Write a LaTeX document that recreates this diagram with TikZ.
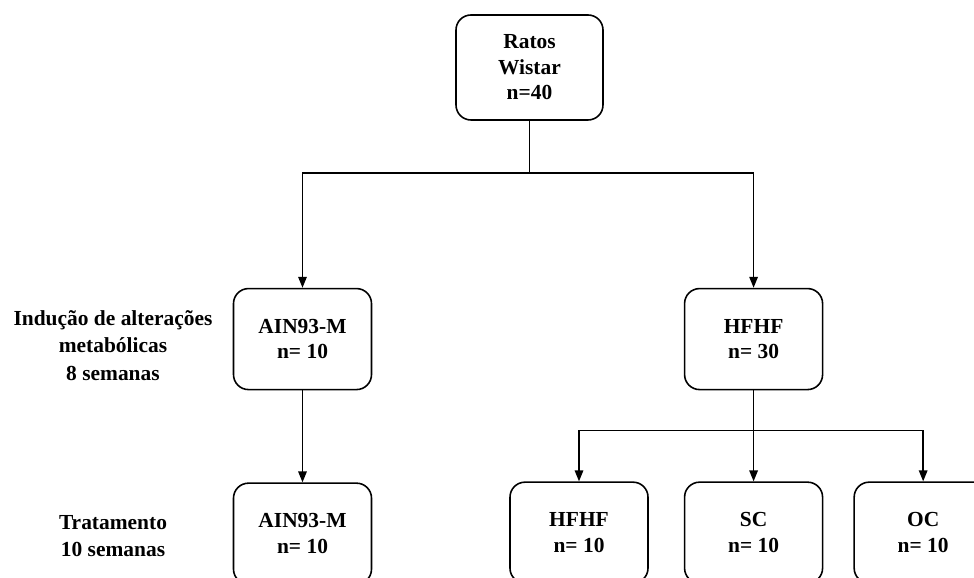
\documentclass[tikz,border=0pt]{standalone}
\usepackage{fontspec}
\setmainfont{Liberation Serif}
\usetikzlibrary{positioning,arrows.meta}

\tikzstyle{group} = [rectangle, rounded corners=0.3cm, minimum width=2.76cm, minimum height=2.02cm, text centered, draw=black, line width=0.9pt, font=\bfseries\fontsize{12.2}{14.5}\selectfont]
\tikzstyle{start} = [group, minimum width=2.94cm, minimum height=2.1cm]
\tikzstyle{phase} = [font=\bfseries\fontsize{12.2}{15.4}\selectfont]
\tikzstyle{arrow} = [line width=0.9pt, -{Triangle[length=0.22cm, width=0.17cm]}]

\begin{document}
\begin{tikzpicture}[align=center, node distance=1cm]

  \clip (0,0) rectangle (19.48,-11.56);

  \node (rats) [start] at (10.59,-1.35) {Ratos\\Wistar\\n=40};
  \node (ain1) [group, below=3.34cm of rats, xshift=-4.54cm] {AIN93-M\\n= 10};
  \node (hfhf1) [group, right=6.23cm of ain1] {HFHF\\n= 30};
  \node (ain2) [group, below=1.84cm of ain1] {AIN93-M\\n= 10};
  \node (sc) [group, below=1.82cm of hfhf1] {SC\\n= 10};
  \node (hfhf2) [group, left=0.7cm of sc] {HFHF\\n= 10};
  \node (oc) [group, right=0.6cm of sc] {OC\\n= 10};

  \node (fase1) [phase] at ([xshift=-3.79cm, yshift=-0.13cm]ain1.center) {Indução de alterações\\metabólicas\\8 semanas};
  \node (fase2) [phase] at ([xshift=-3.79cm, yshift=-0.04cm]ain2.center) {Tratamento\\10 semanas};

  % --- %

  \draw [arrow] (rats.south) -- ++(0,-1.04) -| (ain1.north);
  \draw [arrow] (rats.south) -- ++(0,-1.04) -| (hfhf1.north);
  \draw [arrow] (ain1) -- (ain2);
  \draw [arrow] (hfhf1.south) -- ++(0,-0.8) -| (hfhf2.north);
  \draw [arrow] (hfhf1) -- (sc);
  \draw [arrow] (hfhf1.south) -- ++(0,-0.8) -| (oc.north);

\end{tikzpicture}
\end{document}
